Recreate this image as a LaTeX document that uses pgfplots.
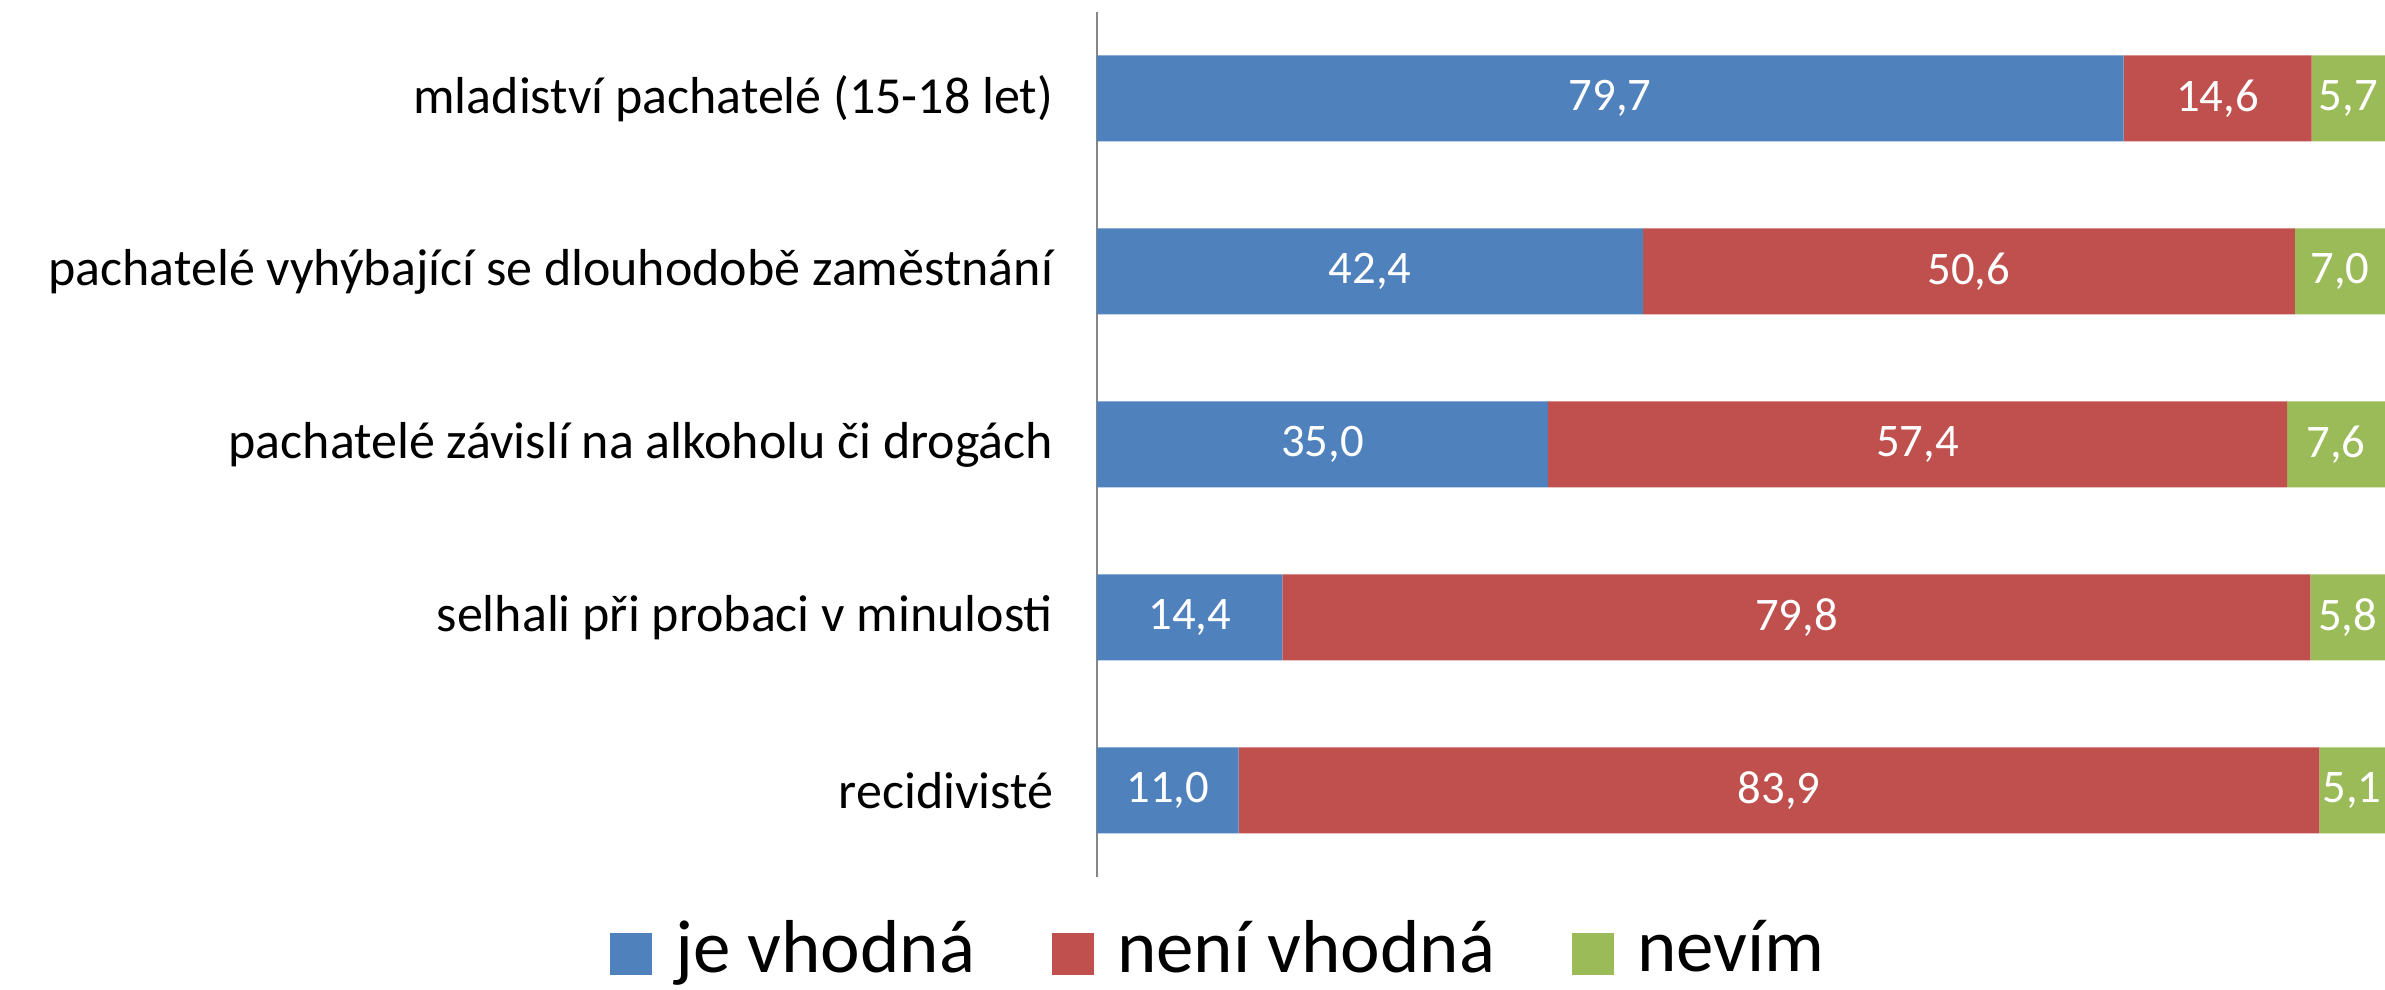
\documentclass[border=0pt]{standalone}
\usepackage{fontspec}
\setmainfont{Carlito}
\usepackage{pgfplots}
\usepackage{pgfplotstable}
\pgfplotsset{compat=1.18}
\definecolor{cblue}{HTML}{4F81BD}
\definecolor{cred}{HTML}{C0504D}
\definecolor{cgreen}{HTML}{9BBB59}
\definecolor{caxis}{HTML}{868686}
\pgfplotstableread{
y je ne nv
0 11.0 83.9 5.1
1 14.4 79.8 5.8
2 35.0 57.4 7.6
3 42.4 50.6 7.0
4 79.7 14.6 5.7
}\data
\pgfplotsset{sqleg/.style={legend image code/.code={\fill[##1] (0pt,-8pt) rectangle (12.6pt,4.6pt);}}}
\begin{document}
\begin{tikzpicture}
\useasboundingbox (-329.1pt,-33.9pt) rectangle (386.4pt,263.1pt);
\begin{axis}[
  at={(0,0)}, anchor=south west,
  scale only axis, width=386.4pt, height=259.5pt,
  xbar stacked, bar width=25.8pt,
  xmin=0, xmax=100, ymin=-0.5, ymax=4.5,
  hide x axis,
  axis y line*=left,
  y axis line style={draw=caxis, line width=0.7pt, -},
  ytick={0,1,2,3,4},
  yticklabels={recidivisté\hspace{0.3em}, selhali při probaci v minulosti, pachatelé závislí na alkoholu či drogách, pachatelé vyhýbající se dlouhodobě zaměstnání, mladiství pachatelé (15-18 let)},
  major tick length=0pt,
  yticklabel style={font=\fontsize{15.6}{18}\selectfont, text=black, xshift=-9.6pt},
  /pgf/number format/assume math mode=true,
  point meta=explicit,
  nodes near coords={\pgfmathprintnumber[fixed,fixed zerofill,precision=1,use comma]{\pgfplotspointmeta}},
  nodes near coords style={font=\fontsize{14}{16}\selectfont, text=white},
  legend style={draw=none, fill=none, legend columns=-1, at={(0.096,-0.083)}, anchor=center,
    font=\fontsize{22.5}{27}\selectfont, nodes={inner ysep=0pt},
    /tikz/every odd column/.append style={column sep=5pt},
    /tikz/every even column/.append style={column sep=21pt}},
]
\addplot[sqleg, fill=cblue, draw=none] table[x=je, y=y, meta=je] \data;
\addplot[sqleg, fill=cred, draw=none] table[x=ne, y=y, meta=ne] \data;
\addplot[sqleg, fill=cgreen, draw=none] table[x=nv, y=y, meta=nv] \data;
\legend{je vhodná, není vhodná, nevím}
\end{axis}
\end{tikzpicture}
\end{document}
